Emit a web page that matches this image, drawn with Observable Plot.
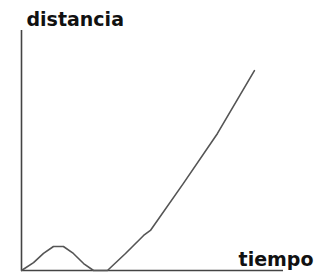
<!DOCTYPE html>
<html>
<head>
<meta charset="utf-8">
<script src="https://cdn.jsdelivr.net/npm/d3@7"></script>
<script src="https://cdn.jsdelivr.net/npm/@observablehq/plot@0.6"></script>
<style>
  html, body { margin: 0; padding: 0; background: #fff; }
</style>
</head>
<body>
<div id="chart"></div>
<script>
// Data (arbitrary units: tiempo 0–100, distancia 0–100)
const tiempo    = [0, 4.6, 8.4, 12.2, 16, 19.8, 23.7, 27.5, 32.8, 39.7, 46.6, 49.2, 61.8, 74.8, 88.9];
const distancia = [0, 3.3, 7.1, 10, 10, 7.1, 2.9, 0, 0, 7.1, 14.6, 16.7, 36.3, 57.1, 83.3];
const xLabel = "tiempo";
const yLabel = "distancia";

const data = tiempo.map((t, i) => ({t, d: distancia[i]}));

const font = "'DejaVu Sans', sans-serif";

const chart = Plot.plot({
  width: 318,
  height: 272,
  marginLeft: 21,
  marginRight: 35,
  marginTop: 30,
  marginBottom: 2,
  x: {domain: [0, 100], axis: null},
  y: {domain: [0, 100], axis: null},
  style: {background: "#fff", overflow: "visible"},
  marks: [
    Plot.ruleX([0], {stroke: "#444", strokeWidth: 1.6}),
    Plot.ruleY([0], {stroke: "#444", strokeWidth: 1.6}),
    Plot.line(data, {x: "t", y: "d", stroke: "#555", strokeWidth: 1.6}),
    Plot.text([yLabel], {x: 0, y: 100, text: d => d, textAnchor: "start", lineAnchor: "bottom",
      dx: 5, dy: -5, fontFamily: font, fontWeight: "bold", fontSize: 19, fill: "#111"}),
    Plot.text([xLabel], {x: 100, y: 0, text: d => d, textAnchor: "end", lineAnchor: "bottom",
      dx: 30, dy: -5, fontFamily: font, fontWeight: "bold", fontSize: 19, fill: "#111"})
  ]
});
document.getElementById("chart").appendChild(chart);
</script>
</body>
</html>
